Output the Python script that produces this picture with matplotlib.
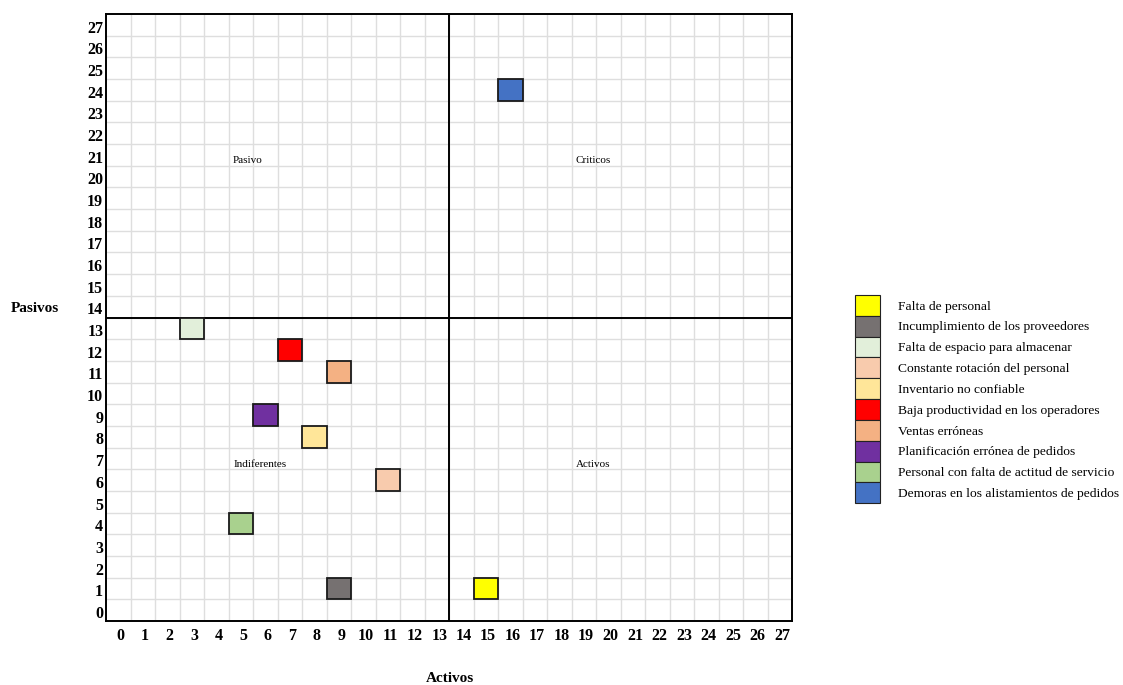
import matplotlib.pyplot as plt
from matplotlib.patches import Patch

# Problem causes placed on the activos / pasivos grid
causas = [
    'Falta de personal',
    'Incumplimiento de los proveedores',
    'Falta de espacio para almacenar',
    'Constante rotación del personal',
    'Inventario no confiable',
    'Baja productividad en los operadores',
    'Ventas erróneas',
    'Planificación errónea de pedidos',
    'Personal con falta de actitud de servicio',
    'Demoras en los alistamientos de pedidos',
]
activos = [15, 9, 3, 11, 8, 7, 9, 6, 5, 16]
pasivos = [1, 1, 13, 6, 8, 12, 11, 9, 4, 24]
colores = ['#FFFF00', '#767171', '#E2EFDA', '#F8CBAD', '#FFE699',
           '#FF0000', '#F4B183', '#7030A0', '#A9D18E', '#4472C4']

n_celdas = 28
corte = 14

plt.rcParams['font.family'] = ['Liberation Serif', 'DejaVu Serif']

fig = plt.figure(figsize=(11.23, 6.85), dpi=100)
ax = fig.add_axes([0.0944, 0.0934, 0.6109, 0.8861])

# light cell grid
for k in range(1, n_celdas):
    ax.axvline(k, color='#dedede', lw=1.0, zorder=0)
    ax.axhline(k, color='#dedede', lw=1.0, zorder=0)

# quadrant dividers
ax.axvline(corte, color='black', lw=1.4, zorder=1)
ax.axhline(corte, color='black', lw=1.4, zorder=1)

# each cause fills one cell
for x, y, c, lab in zip(activos, pasivos, colores, causas):
    ax.bar(x, 1, bottom=y, width=1, align='edge', color=c,
           edgecolor='#1a1a1a', linewidth=1.3, zorder=3, label=lab)

# quadrant names
ax.text(5.76, 21.25, 'Pasivo', fontsize=8, ha='center', va='center')
ax.text(19.9, 21.25, 'Criticos', fontsize=8, ha='center', va='center')
ax.text(6.29, 7.2, 'Indiferentes', fontsize=8, ha='center', va='center')
ax.text(19.9, 7.2, 'Activos', fontsize=8, ha='center', va='center')

ax.set_xlim(0, n_celdas)
ax.set_ylim(0, n_celdas)
ax.set_xticks([k + 0.6 for k in range(n_celdas)])
ax.set_xticklabels([str(k) for k in range(n_celdas)], fontsize=11.5, fontweight='bold')
ax.set_yticks([k + 0.42 for k in range(n_celdas)])
ax.set_yticklabels([str(k) for k in range(n_celdas)], fontsize=11.5, fontweight='bold')
ax.tick_params(length=0, pad=5)
ax.tick_params(axis='y', pad=2)

for s in ax.spines.values():
    s.set_color('black')
    s.set_linewidth(1.4)

fig.text(35 / 1123, 1 - 309 / 685, 'Pasivos', fontsize=11, fontweight='bold',
         ha='center', va='center')
fig.text(450 / 1123, 1 - 678 / 685, 'Activos', fontsize=11, fontweight='bold',
         ha='center', va='center')

handles = [Patch(facecolor=c, edgecolor='#222222', linewidth=0.8) for c in colores]
fig.legend(handles, causas, loc='upper left', bbox_to_anchor=(855 / 1123, 1 - 295 / 685),
           frameon=False, fontsize=9.7, borderpad=0, borderaxespad=0,
           handlelength=1.85, handleheight=2.0, labelspacing=0, handletextpad=1.35)

fig.savefig('out.png', dpi=100)
